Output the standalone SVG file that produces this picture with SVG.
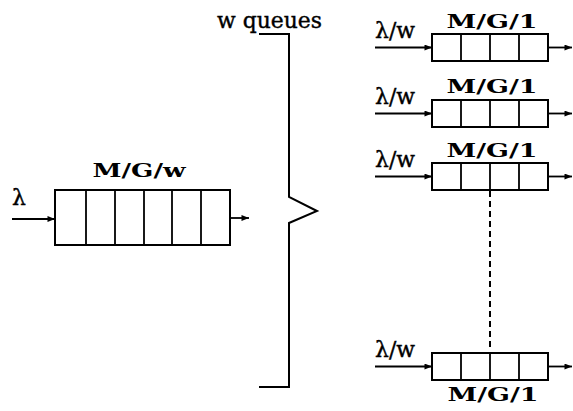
<svg xmlns="http://www.w3.org/2000/svg" width="573" height="411" viewBox="0 0 573 411">
  <style>
    .box { fill: #fff; stroke: #000; stroke-width: 2; }
    .cell { stroke: #000; stroke-width: 1.8; fill: none; }
    .line { stroke: #000; stroke-width: 2; fill: none; }
    .arrow { stroke: #000; stroke-width: 1.8; fill: none; marker-end: url(#head); }
    .lbl { font-family: "DejaVu Serif", "Liberation Serif", serif; font-size: 22px; fill: #000; stroke: #000; stroke-width: 0.4; }
    .title { font-family: "DejaVu Serif", "Liberation Serif", serif; font-weight: bold; font-size: 19px; fill: #000; }
  </style>
  <defs>
    <marker id="head" viewBox="0 0 10 8" refX="10" refY="4" markerWidth="8" markerHeight="6" markerUnits="userSpaceOnUse" orient="auto">
      <path d="M0,0 L10,4 L0,8 Z" fill="#000"/>
    </marker>
    <g id="q4">
      <rect class="box" x="0" y="0" width="116" height="27"/>
      <line class="cell" x1="29" y1="0" x2="29" y2="27"/>
      <line class="cell" x1="58" y1="0" x2="58" y2="27"/>
      <line class="cell" x1="87" y1="0" x2="87" y2="27"/>
    </g>
  </defs>

  <!-- single M/G/w queue -->
  <g id="mgw">
    <text class="title" x="139" y="177" text-anchor="middle" textLength="93" lengthAdjust="spacingAndGlyphs">M/G/w</text>
    <rect class="box" x="55" y="190" width="175" height="55"/>
    <line class="cell" x1="86" y1="190" x2="86" y2="245"/>
    <line class="cell" x1="115" y1="190" x2="115" y2="245"/>
    <line class="cell" x1="144" y1="190" x2="144" y2="245"/>
    <line class="cell" x1="172" y1="190" x2="172" y2="245"/>
    <line class="cell" x1="201" y1="190" x2="201" y2="245"/>
    <text class="lbl" x="12" y="205" font-size="30">λ</text>
  </g>

  <!-- brace labelled w queues -->
  <g id="brace">
    <text class="lbl" x="217" y="28" font-size="21" textLength="105" lengthAdjust="spacingAndGlyphs">w queues</text>
    <path class="line" d="M259,34 H289 V197 L317,211 L289,223 V387 H259"/>
  </g>

  <!-- M/G/1 queues -->
  <g id="q1">
    <text class="title" x="492" y="28" text-anchor="middle" textLength="91" lengthAdjust="spacingAndGlyphs">M/G/1</text>
    <text class="lbl" x="375" y="38" textLength="40" lengthAdjust="spacingAndGlyphs">λ/w</text>
    <use href="#q4" x="432" y="34"/>
  </g>
  <g id="q2">
    <text class="title" x="492" y="93" text-anchor="middle" textLength="91" lengthAdjust="spacingAndGlyphs">M/G/1</text>
    <text class="lbl" x="375" y="104" textLength="40" lengthAdjust="spacingAndGlyphs">λ/w</text>
    <use href="#q4" x="432" y="100"/>
  </g>
  <g id="q3">
    <text class="title" x="492" y="157" text-anchor="middle" textLength="91" lengthAdjust="spacingAndGlyphs">M/G/1</text>
    <text class="lbl" x="375" y="167" textLength="40" lengthAdjust="spacingAndGlyphs">λ/w</text>
    <use href="#q4" x="432" y="163"/>
  </g>
  <g id="q4n">
    <text class="lbl" x="375" y="357" textLength="40" lengthAdjust="spacingAndGlyphs">λ/w</text>
    <use href="#q4" x="432" y="353"/>
    <text class="title" x="493" y="401" text-anchor="middle" textLength="91" lengthAdjust="spacingAndGlyphs">M/G/1</text>
  </g>

  <!-- connectors -->
  <g id="connectors">
    <line class="arrow" x1="12" y1="219" x2="55" y2="219"/>
    <line class="arrow" x1="230" y1="218" x2="249" y2="218"/>
    <line class="arrow" x1="375" y1="47.5" x2="432" y2="47.5"/>
    <line class="arrow" x1="548" y1="47.5" x2="572" y2="47.5"/>
    <line class="arrow" x1="375" y1="113.5" x2="432" y2="113.5"/>
    <line class="arrow" x1="548" y1="113.5" x2="572" y2="113.5"/>
    <line class="arrow" x1="375" y1="176.5" x2="432" y2="176.5"/>
    <line class="arrow" x1="548" y1="176.5" x2="572" y2="176.5"/>
    <line class="arrow" x1="375" y1="366.5" x2="432" y2="366.5"/>
    <line class="arrow" x1="548" y1="366.5" x2="572" y2="366.5"/>
    <line class="line" x1="490" y1="191" x2="490" y2="350" stroke-dasharray="6 4"/>
  </g>
</svg>
